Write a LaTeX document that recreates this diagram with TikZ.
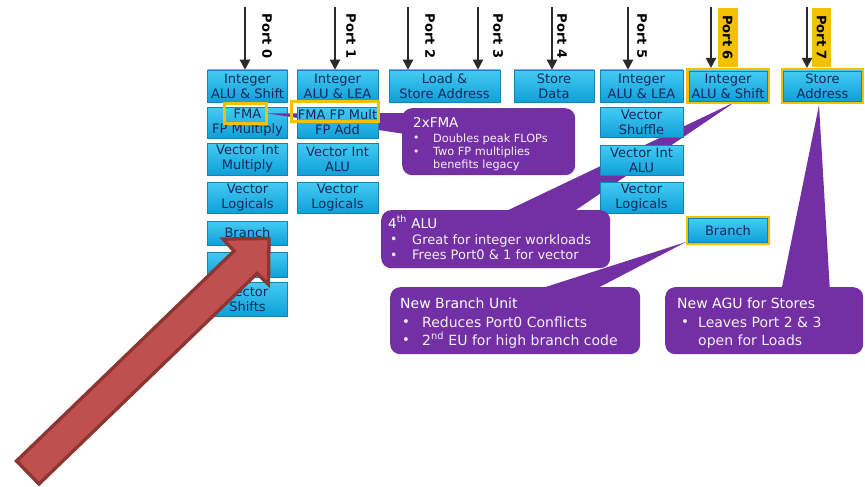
\documentclass[tikz,border=0pt]{standalone}
\usepackage{fontspec}
\setmainfont{DejaVu Sans}
\usetikzlibrary{arrows.meta}
\definecolor{cyanT}{HTML}{43CBF3}
\definecolor{cyanB}{HTML}{109FD8}
\definecolor{cyanD}{HTML}{1683B5}
\definecolor{boxtxt}{HTML}{13285A}
\definecolor{hl}{HTML}{F2C200}
\definecolor{purp}{HTML}{7230A4}
\definecolor{calltxt}{HTML}{F6F0FB}
\definecolor{redF}{HTML}{C0504D}
\definecolor{redD}{HTML}{8C3533}
\definecolor{arr}{HTML}{2A2A2A}
\newcommand\mybul[1]{\makebox[#1][l]{\raisebox{0.3pt}{\scalebox{.95}{\textbullet}}}}
\begin{document}
\begin{tikzpicture}[x=1pt,y=-1pt,
  unit/.style={draw=cyanD, line width=0.6pt, top color=cyanT, bottom color=cyanB,
    inner sep=0pt, align=center, text=boxtxt, font=\fontsize{13}{15}\selectfont},
  hlunit/.style={unit, preaction={draw=hl, line width=5.4pt}},
  hlframe/.style={draw=hl, line width=2.7pt, inner sep=0pt},
  portarr/.style={draw=arr, line width=2.2pt, -{Triangle[length=10pt,width=10pt]}},
  portlbl/.style={rotate=-90, font=\fontsize{13}{13}\selectfont\bfseries, text=black, inner sep=0pt},
  callbox/.style={fill=purp, rounded corners=10pt, draw=none, inner sep=0pt},
  calltitle/.style={anchor=base west, inner sep=0pt, text=white},
  callline/.style={anchor=base west, inner sep=0pt, text=calltxt},
  wedge/.style={fill=purp}
]
\path[use as bounding box] (0,0) rectangle (865,487);

% ---------- callout wedges (behind units) ----------
\coordinate (w2tip) at (735,102);
\coordinate (w3tip) at (686,242);
\coordinate (w4tip) at (819,105);
\fill[wedge] (w2tip) -- (500,214) -- (570,214) -- cycle;
\fill[wedge] (w3tip) -- (530,292) -- (590,292) -- cycle;
\fill[wedge] (w4tip) -- (781,292) -- (830,292) -- cycle;

% ---------- port 0 units ----------
\node[unit, minimum width=80pt, minimum height=32pt] (b00) at (247.5,86) {Integer\\ALU \& Shift};
\node[unit, minimum width=80pt, minimum height=31pt] (b01) at (247.5,122.5) {FMA\\FP Multiply};
\node[unit, minimum width=80pt, minimum height=32pt] (b02) at (247.5,159) {Vector Int\\Multiply};
\node[unit, minimum width=80pt, minimum height=31pt] (b03) at (247.5,197.5) {Vector\\Logicals};
\node[unit, minimum width=80pt, minimum height=24pt] (b04) at (247.5,233) {Branch};
\node[unit, minimum width=80pt, minimum height=25pt] (b05) at (247.5,264.5) {};
\node[unit, minimum width=80pt, minimum height=34pt] (b06) at (247.5,299) {Vector\\Shifts};

% wedge of the 2xFMA callout (over port 0 column, under port 1 column)
\node[hlframe, minimum width=42pt, minimum height=20pt] (fmaA) at (245.5,113.5) {};
\fill[wedge] (fmaA.east) -- (405,113) -- (405,134) -- cycle;

% ---------- port 1 units ----------
\node[unit, minimum width=81pt, minimum height=32pt] (b10) at (337.5,86) {Integer\\ALU \& LEA};
\node[unit, minimum width=81pt, minimum height=31pt] (b11) at (337.5,122.5) {FMA FP Mult\\FP Add};
\node[unit, minimum width=81pt, minimum height=32pt] (b12) at (337.5,159) {Vector Int\\ALU};
\node[unit, minimum width=81pt, minimum height=31pt] (b13) at (337.5,197.5) {Vector\\Logicals};
\node[hlframe, minimum width=87pt, minimum height=20pt] (fmaB) at (335,111.5) {};
\node[hlframe, minimum width=42pt, minimum height=20pt] (fmaA2) at (fmaA) {};

% ---------- ports 2-7 units ----------
\node[unit, minimum width=111pt, minimum height=32pt] (b2) at (444.5,86) {Load \&\\Store Address};
\node[unit, minimum width=80pt, minimum height=32pt] (b4) at (554,86) {Store\\Data};
\node[unit, minimum width=83pt, minimum height=32pt] (b50) at (641.5,86) {Integer\\ALU \& LEA};
\node[unit, minimum width=83pt, minimum height=30pt] (b51) at (641.5,122.5) {Vector\\Shuffle};
\node[unit, minimum width=83pt, minimum height=30pt] (b52) at (641.5,160) {Vector Int\\ALU};
\node[unit, minimum width=83pt, minimum height=31pt] (b53) at (641.5,197.5) {Vector\\Logicals};
\node[hlunit, minimum width=78pt, minimum height=30pt] (b60) at (728,86) {Integer\\ALU \& Shift};
\node[hlunit, minimum width=78.5pt, minimum height=23.5pt] (b61) at (728,230.5) {Branch};
\node[hlunit, minimum width=78pt, minimum height=30pt] (b7) at (822.5,86) {Store\\Address};

% ---------- callouts ----------
\node[callbox, minimum width=173pt, minimum height=67pt, anchor=north west] (c1) at (402,108) {};
\node[callbox, minimum width=229pt, minimum height=58pt, anchor=north west] (c2) at (381,210) {};
\node[callbox, minimum width=250pt, minimum height=67pt, anchor=north west] (c3) at (390,287) {};
\node[callbox, minimum width=198pt, minimum height=67pt, anchor=north west] (c4) at (665,287) {};

\node[calltitle, font=\fontsize{13.5}{14}\selectfont] (c1a) at (413,127.5) {2xFMA};
\node[callline, font=\fontsize{11.3}{12}\selectfont] (c1b) at (413,142) {\mybul{20pt}Doubles peak FLOPs};
\node[callline, font=\fontsize{11.3}{12}\selectfont] (c1c) at (413,155.5) {\mybul{20pt}Two FP multiplies};
\node[callline, font=\fontsize{11.3}{12}\selectfont] (c1d) at (433,168.5) {benefits legacy};

\node[calltitle, font=\fontsize{13.5}{14}\selectfont] (c2a) at (388,228) {4\textsuperscript{th} ALU};
\node[callline, font=\fontsize{13}{14}\selectfont] (c2b) at (390,244) {\mybul{22pt}Great for integer workloads};
\node[callline, font=\fontsize{13}{14}\selectfont] (c2c) at (390,259.5) {\mybul{22pt}Frees Port0 \& 1 for vector};

\node[calltitle, font=\fontsize{14}{15}\selectfont] (c3a) at (400,308) {New Branch Unit};
\node[callline, font=\fontsize{14}{15}\selectfont] (c3b) at (402,327) {\mybul{20pt}Reduces Port0 Conflicts};
\node[callline, font=\fontsize{14}{15}\selectfont] (c3c) at (402,345) {\mybul{20pt}2\textsuperscript{nd} EU for high branch code};

\node[calltitle, font=\fontsize{14}{15}\selectfont] (c4a) at (677,308) {New AGU for Stores};
\node[callline, font=\fontsize{14}{15}\selectfont] (c4b) at (681,327) {\mybul{17pt}Leaves Port 2 \& 3};
\node[callline, font=\fontsize{14}{15}\selectfont] (c4c) at (698,345) {open for Loads};

% ---------- port arrows and labels ----------
\coordinate (t0) at (245,7);
\coordinate (t1) at (335,7);
\coordinate (t2) at (408,7);
\coordinate (t3) at (478,7);
\coordinate (t4) at (552,7);
\coordinate (t5) at (628,7);
\coordinate (t6) at (711,7);
\coordinate (t7) at (807,7);
\node[portlbl, fill=hl, minimum width=59pt, minimum height=20pt] (l6) at (727.5,37.5) {Port 6};
\node[portlbl, fill=hl, minimum width=59pt, minimum height=19pt] (l7) at (821.5,37.5) {Port 7};
\draw[portarr] (t0) -- (t0 |- b00.north);
\draw[portarr] (t1) -- (t1 |- b10.north);
\draw[portarr] (t2) -- (t2 |- b2.north);
\draw[portarr] (t3) -- (t3 |- b2.north);
\draw[portarr] (t4) -- (t4 |- b4.north);
\draw[portarr] (t5) -- (t5 |- b50.north);
\draw[portarr, shorten >=2.7pt] (t6) -- (t6 |- b60.north);
\draw[portarr, shorten >=2.7pt] (t7) -- (t7 |- b7.north);
\node[portlbl] (l0) at (267,36) {Port 0};
\node[portlbl] (l1) at (351,36) {Port 1};
\node[portlbl] (l2) at (430,36) {Port 2};
\node[portlbl] (l3) at (498,36) {Port 3};
\node[portlbl] (l4) at (562,36) {Port 4};
\node[portlbl] (l5) at (642,36) {Port 5};

% ---------- red block arrow ----------
\draw[draw=redD, fill=redF, line width=3.3pt, line join=miter]
  (16.5,461) -- (234,251) -- (223,239) -- (269,238.5) -- (268.5,284.5)
  -- (257,273.5) -- (39,484) -- cycle;
\end{tikzpicture}
\end{document}
